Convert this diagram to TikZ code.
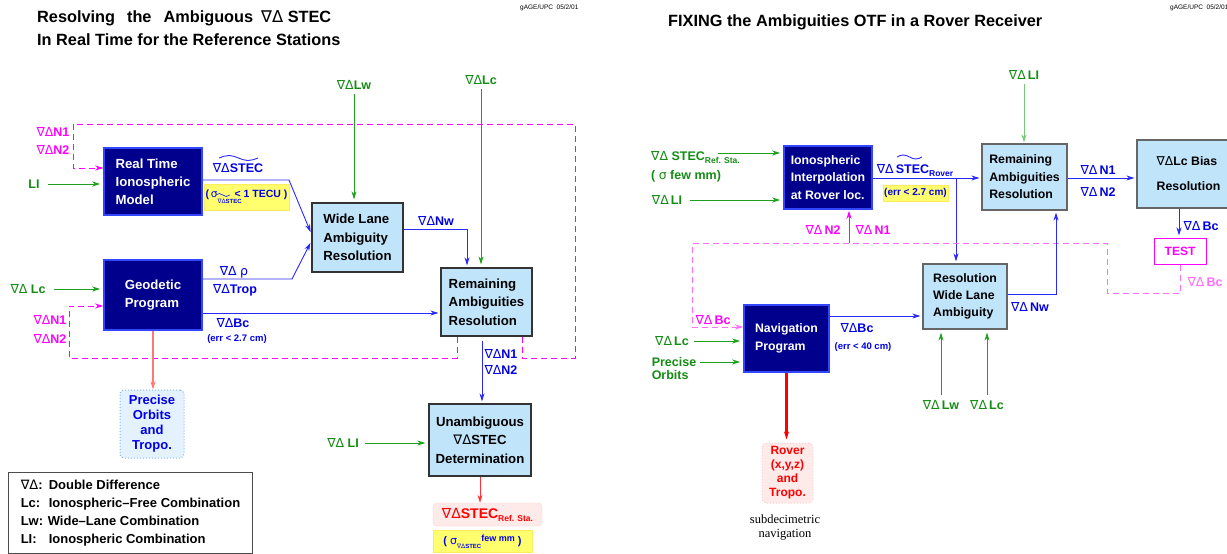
\documentclass[tikz,border=0pt]{standalone}
\usepackage{fontspec}
\setmainfont{Liberation Sans}
\newfontfamily\dv{DejaVu Sans}
\newfontfamily\serifF{Liberation Serif}
\usetikzlibrary{arrows.meta}
\definecolor{navy}{RGB}{0,0,140}
\definecolor{navyb}{RGB}{50,70,255}
\definecolor{lblue}{RGB}{192,228,250}
\definecolor{gtxt}{RGB}{20,140,20}
\definecolor{gline}{RGB}{30,160,30}
\definecolor{glight}{RGB}{120,200,120}
\definecolor{btxt}{RGB}{0,0,230}
\definecolor{bline}{RGB}{40,40,255}
\definecolor{mag}{RGB}{255,0,255}
\definecolor{maglt}{RGB}{255,110,255}
\definecolor{ylw}{RGB}{255,255,110}
\definecolor{salmon}{RGB}{255,120,120}
\definecolor{rtxt}{RGB}{255,0,0}
\definecolor{pinkf}{RGB}{255,234,234}
\definecolor{pinkd}{RGB}{255,205,205}
\definecolor{pof}{RGB}{228,242,255}
\definecolor{pod}{RGB}{130,185,235}
\newcommand\ND{{\dv\mdseries ∇Δ}}
\newcommand\sub[1]{\raisebox{-3pt}{\fontsize{8.5}{9}\selectfont #1}}
\begin{document}
\begin{tikzpicture}[x=1pt,y=-1pt,
  >={Stealth[length=8pt,width=5pt,inset=2.5pt]},
  dbox/.style={draw=navyb, fill=navy, line width=1.5pt, text=white, align=left, inner sep=0pt, font=\fontsize{13.2}{18}\selectfont\bfseries},
  lbox/.style={draw=black!80, fill=lblue, line width=1.2pt, text=black, align=left, inner sep=0pt, font=\fontsize{13.2}{18.5}\selectfont\bfseries},
  rbox/.style={draw=black!60, fill=lblue, line width=1.2pt, text=black, align=left, inner sep=0pt, font=\fontsize{12.3}{17.5}\selectfont\bfseries},
  glab/.style={text=gtxt, inner sep=0pt, align=left, font=\fontsize{12.5}{18}\selectfont\bfseries},
  blab/.style={text=btxt, inner sep=0pt, align=left, font=\fontsize{12.5}{16}\selectfont\bfseries},
  mlab/.style={text=mag, inner sep=0pt, align=left, font=\fontsize{12.5}{18}\selectfont\bfseries},
  small/.style={text=btxt, inner sep=0pt, font=\fontsize{9.5}{11}\selectfont\bfseries},
  ybox/.style={fill=ylw, draw=ylw!85!orange, inner sep=0pt, text=btxt, font=\fontsize{10.5}{12}\selectfont\bfseries},
  barr/.style={draw=bline, line width=0.9pt, ->, shorten >=2pt},
  garr/.style={draw=gline, line width=0.9pt, ->, shorten >=3pt},
  marr/.style={draw=mag, line width=0.9pt, ->},
  mdash/.style={draw=mag, line width=0.9pt, dash pattern=on 6pt off 4pt},
  mdashlt/.style={draw=maglt, line width=0.9pt, dash pattern=on 6pt off 4pt},
  ttl/.style={anchor=west, inner sep=0pt, font=\fontsize{16.3}{20}\selectfont\bfseries},
  stamp/.style={anchor=west, inner sep=0pt, font=\fontsize{6.5}{7}\selectfont},
]
\path[use as bounding box] (0,0) rectangle (1227,554);

% ---------------- titles ----------------
\node[ttl] (t1) at (37,18) {Resolving\hspace{12pt}the\hspace{12pt}Ambiguous\hspace{8pt}\ND\ STEC};
\node[ttl] (t2) at (37,40) {In Real Time for the Reference Stations};
\node[ttl] (t3) at (668,22) {FIXING the Ambiguities OTF in a Rover Receiver};
\node[stamp] (s1) at (520,8) {gAGE/UPC\ \ 05/2/01};
\node[stamp] (s2) at (1170,8) {gAGE/UPC\ \ 05/2/01};

% ---------------- left diagram : boxes ----------------
\node[dbox, minimum width=98, minimum height=67] (rtim) at (153,181.5) {Real Time\\Ionospheric\\Model};
\node[dbox, minimum width=98, minimum height=70] (geo) at (153,295) {Geodetic\\Program};
\node[lbox, minimum width=91, minimum height=69] (wl) at (357.5,237.5) {Wide Lane\\Ambiguity\\Resolution};
\node[lbox, minimum width=91, minimum height=68] (rem) at (486.5,302) {Remaining\\Ambiguities\\Resolution};
\node[lbox, minimum width=102, minimum height=72, align=center] (una) at (480,440) {Unambiguous\\\ND STEC\\Determination};
\node[draw=pinkd, fill=pinkf, rounded corners=4pt, minimum width=109, minimum height=23, inner sep=0pt, text=rtxt, font=\fontsize{14}{16}\selectfont\bfseries] (sref) at (487.5,514.5) {\ND STEC\sub{Ref. Sta.}};
\node[ybox, minimum width=99, minimum height=22, font=\fontsize{11}{12}\selectfont\bfseries] (yfew) at (482.5,541.5) {(\ {\dv\mdseries σ}\raisebox{-4pt}{\fontsize{6}{6}\selectfont\ND STEC}\raisebox{3pt}{\fontsize{9}{9}\selectfont few mm}\ )};
\node[draw=pod, fill=pof, dotted, rounded corners=4pt, line width=1pt, minimum width=64, minimum height=68, inner sep=0pt, text=btxt, align=center, font=\fontsize{13}{15}\selectfont\bfseries] (po) at (152,424) {Precise\\Orbits\\and\\Tropo.};
\node[draw=black!70, line width=1pt, minimum width=244, minimum height=81, inner sep=0pt, anchor=north west, align=left, font=\fontsize{13}{18}\selectfont\bfseries] (leg) at (8,472)
 {\makebox[28pt][l]{\ND:}Double Difference\\\makebox[28pt][l]{Lc:}Ionospheric–Free Combination\\\makebox[27pt][l]{Lw:}Wide–Lane Combination\\\makebox[28pt][l]{LI:}Ionospheric Combination};

% ---------------- left diagram : labels ----------------
\node[glab] (li) at (34,184) {LI};
\node[mlab] (nTop) at (53,141) {\ND N1\\\ND N2};
\node[glab] (lcL) at (28,289) {\ND\ Lc};
\node[mlab, font=\fontsize{12.5}{19}\selectfont\bfseries] (nBot) at (50,329.5) {\ND N1\\\ND N2};
\node[blab] (stecA) at (238,168) {\ND STEC};
\node[ybox, minimum width=85, minimum height=26] (y1) at (246.5,197) {(\,{\dv\mdseries σ}\rlap{\raisebox{-6pt}{\fontsize{6}{6}\selectfont\ND STEC}}\hspace{17pt}< 1 TECU )};
\node[blab] (rho) at (234,272) {\ND\ {\dv\mdseries ρ}};
\node[blab] (trop) at (235,290) {\ND Trop};
\node[blab] (bcL) at (233,323) {\ND Bc};
\node[small] (errL) at (237,339) {(err < 2.7 cm)};
\node[glab] (lw) at (354,85) {\ND Lw};
\node[glab] (lcT) at (481,80) {\ND Lc};
\node[blab] (nw) at (436,221) {\ND Nw};
\node[blab] (n12) at (501,362) {\ND N1\\\ND N2};
\node[glab] (lI2) at (343,443) {\ND\ LI};

% tildes
\draw[bline, line width=0.9pt] (219,158) sin (229,155.5) cos (238.5,158) sin (248,160.5) cos (258,158);
\draw[bline, line width=0.7pt] ([xshift=12pt,yshift=2pt]y1.west) sin ++(3.5,-1.5) cos ++(3.5,1.5) sin ++(3.5,1.5) cos ++(3.5,-1.5);

% helper coordinates
\coordinate (lpA) at (522,0);   \coordinate (lpB) at (575,358);
\coordinate (lpC) at (73,124);  \coordinate (lpD) at (0,168);
\coordinate (lqA) at (457,0);   \coordinate (lqB) at (69,358);
\coordinate (lqC) at (0,306);
\coordinate (sA) at (0,180);    \coordinate (sB) at (289,180);  \coordinate (sC) at (0,234);
\coordinate (rA) at (0,279);    \coordinate (rB) at (292,279);  \coordinate (rC) at (0,241);
\coordinate (bA) at (0,313);
\coordinate (nA) at (0,229);    \coordinate (nB) at (467,0);
\coordinate (uA) at (482,0);

% ---------------- left diagram : connectors ----------------
\draw[mdash,->] (rem.south -| lpA) |- (lpB) |- (lpC) |- (rtim.west |- lpD);
\draw[mdash,->] (rem.south -| lqA) |- (lqB) |- (geo.west |- lqC);
\draw[garr, shorten <=8pt] (li.east) -- (li.east -| rtim.west);
\draw[garr, shorten <=8pt] (lcL.east) -- (lcL.east -| geo.west);
\draw[barr] (rtim.east |- sA) -- (sB) -- (wl.west |- sC);
\draw[barr] (geo.east |- rA) -- (rB) -- (wl.west |- rC);
\draw[barr] (geo.east |- bA) -- (bA -| rem.west);
\draw[draw=salmon, line width=1.2pt, ->] (geo.south) -- (geo.south |- po.north);
\draw[garr, shorten <=4pt] (lw.south) -- (lw.south |- wl.north);
\draw[garr, shorten <=4pt] (lcT.south) -- (lcT.south |- rem.north);
\draw[barr] (wl.east |- nA) -| (rem.north -| nB);
\draw[barr, shorten <=4pt] (rem.south -| uA) -- (una.north -| uA);
\draw[garr, shorten <=6pt] (lI2.east) -- (lI2.east -| una.west);
\draw[draw=red!80, line width=1pt, ->] (una.south) -- (una.south |- sref.north);

% ---------------- right diagram : boxes ----------------
\node[dbox, font=\fontsize{12.3}{17.5}\selectfont\bfseries, minimum width=88, minimum height=63] (ii) at (828,177.5) {Ionospheric\\Interpolation\\at Rover loc.};
\node[rbox, minimum width=85, minimum height=66] (rr) at (1024.5,177) {Remaining\\Ambiguities\\Resolution};
\node[rbox, font=\fontsize{12.3}{25}\selectfont\bfseries, minimum width=103, minimum height=68] (bias) at (1188.5,174) {\ND Lc Bias\\Resolution};
\node[draw=mag, line width=1pt, minimum width=52, minimum height=26, text=mag, inner sep=0pt, font=\fontsize{12}{14}\selectfont\bfseries] (test) at (1180,251) {TEST};
\node[rbox, font=\fontsize{12.3}{17}\selectfont\bfseries, minimum width=84, minimum height=65] (wl2) at (965,296.5) {Resolution\\Wide Lane\\Ambiguity};
\node[dbox, font=\fontsize{12.3}{18}\selectfont\bfseries, minimum width=85, minimum height=67] (nav) at (786.5,338.5) {Navigation\\Program};
\node[draw=pinkd, fill=pinkf, dotted, rounded corners=4pt, line width=1pt, minimum width=51, minimum height=60, inner sep=0pt, text=rtxt, align=center, font=\fontsize{12}{14}\selectfont\bfseries] (rov) at (787.5,473) {Rover\\(x,y,z)\\and\\Tropo.};
\node[inner sep=0pt, align=center, font=\serifF\fontsize{12.5}{14}\selectfont] (subd) at (785,528) {subdecimetric\\navigation};

% ---------------- right diagram : labels ----------------
\node[glab, anchor=west, font=\fontsize{12.5}{19}\selectfont\bfseries] (sref2) at (651,166.5) {\ND\ STEC\sub{Ref. Sta.}\\( {\dv\mdseries σ} few mm)};
\node[glab] (li3) at (667,200) {\ND\,LI};
\node[blab] (stecR) at (915,170) {\ND\,STEC\sub{Rover}};
\node[ybox, minimum width=65, minimum height=16, font=\fontsize{10}{11}\selectfont\bfseries] (y2) at (915.5,193) {(err < 2.7 cm)};
\node[glab] (li4) at (1024,75) {\ND\,LI};
\node[blab] (n1r) at (1098,170) {\ND\,N1};
\node[blab] (n2r) at (1098,192) {\ND\,N2};
\node[blab] (bcR) at (1201,226) {\ND\,Bc};
\node[mlab, text=maglt] (bcM1) at (1205,282) {\ND\,Bc};
\node[mlab] (bcM2) at (713,320) {\ND\,Bc};
\node[mlab] (n2m) at (823,230) {\ND\,N2};
\node[mlab] (n1m) at (873,230) {\ND\,N1};
\node[glab] (lcR) at (672,341) {\ND\,Lc};
\node[glab, font=\fontsize{12.5}{13}\selectfont\bfseries] (por) at (674,368.5) {Precise\\Orbits};
\node[blab] (bcN) at (857,328) {\ND Bc};
\node[small] (errN) at (863,347) {(err < 40 cm)};
\node[blab] (nwR) at (1030,307) {\ND\,Nw};
\node[glab] (lwR) at (941,405) {\ND\,Lw};
\node[glab] (lcR2) at (987,405) {\ND\,Lc};

\draw[bline, line width=0.9pt] (897,157) sin (903.25,155) cos (909.5,157) sin (915.75,159) cos (922,157);

% helper coordinates
\coordinate (sA2) at (718,153);
\coordinate (tA) at (0,178);   \coordinate (tB) at (956,178);
\coordinate (tC) at (1179,0);
\coordinate (dA) at (1107,293); \coordinate (dB) at (692,243); \coordinate (dD) at (0,327);
\coordinate (eA) at (849,243);
\coordinate (pA) at (700,362);
\coordinate (fA) at (0,316);
\coordinate (gA) at (0,294);   \coordinate (gB) at (1056,0);

% ---------------- right diagram : connectors ----------------
\draw[garr] (sA2) -- (sA2 -| ii.west);
\draw[garr, shorten <=8pt] (li3.east) -- (li3.east -| ii.west);
\draw[barr] (ii.east |- tA) -- (tA -| rr.west);
\draw[barr] (tB) -- (tB |- wl2.north);
\draw[draw=glight, line width=0.9pt, ->, shorten <=4pt, shorten >=1pt] (li4.south) -- (li4.south |- rr.north);
\draw[barr] (rr.east |- tA) -- (tA -| bias.west);
\draw[barr] (bias.south -| tC) -- (test.north -| tC);
\draw[mdashlt,->] (test.south) |- (dA) |- (dB) |- (nav.west |- dD);
\draw[marr, shorten >=1pt] (eA) -- (eA |- ii.south);
\draw[garr, shorten <=5pt] (lcR.east) -- (lcR.east -| nav.west);
\draw[garr] (pA) -- (pA -| nav.west);
\draw[barr] (nav.east |- fA) -- (fA -| wl2.west);
\draw[draw=red, line width=2.2pt, ->, shorten >=3pt] (nav.south) -- (nav.south |- rov.north);
\draw[barr] (wl2.east |- gA) -| (rr.south -| gB);
\draw[garr, shorten <=5pt] (lwR.north) -- (lwR.north |- wl2.south);
\draw[garr, shorten <=5pt] (lcR2.north) -- (lcR2.north |- wl2.south);
\end{tikzpicture}
\end{document}
